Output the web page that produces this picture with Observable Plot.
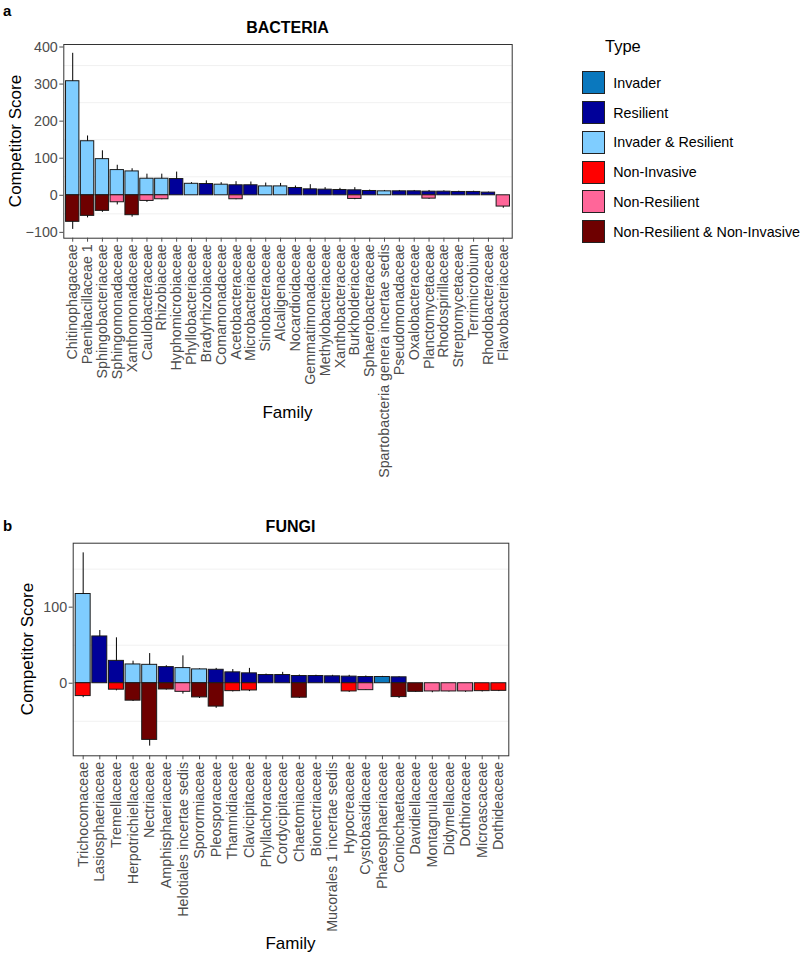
<!DOCTYPE html>
<html>
<head>
<meta charset="utf-8">
<script src="https://cdn.jsdelivr.net/npm/d3@7"></script>
<script src="https://cdn.jsdelivr.net/npm/@observablehq/plot@0.6"></script>
<style>
  html, body { margin: 0; padding: 0; background: #fff; }
  #root { position: relative; width: 800px; height: 956px; font-family: "Liberation Sans", Arial, sans-serif; color: #000; overflow: hidden; }
  .abs { position: absolute; white-space: nowrap; }
  .panelTag { font-weight: bold; font-size: 15px; }
  .ptitle { font-weight: bold; font-size: 16px; transform: translate(-50%, -50%); }
  .atitle { font-size: 17px; transform: translate(-50%, -50%); }
  .ytitle { font-size: 17px; transform: translate(-50%, -50%) rotate(-90deg); }
  .legTitle { font-size: 16.5px; transform: translateY(-50%); }
  .key { position: absolute; width: 21px; height: 21px; border: 1px solid #222; }
  .legLab { font-size: 14.3px; transform: translateY(-50%); }
  svg { position: absolute; overflow: visible; }
</style>
</head>
<body>
<div id="root"></div>
<script>
// ---------- Types / colours ----------
const types = ["Invader", "Resilient", "Invader & Resilient", "Non-Invasive", "Non-Resilient", "Non-Resilient & Non-Invasive"];
const typeColors = ["#0a78be", "#000099", "#7fcdff", "#ff0000", "#ff6699", "#6e0000"];
const I = "Invader", R = "Resilient", IR = "Invader & Resilient", NI = "Non-Invasive", NR = "Non-Resilient", NRNI = "Non-Resilient & Non-Invasive";

// ---------- BACTERIA ----------
const bacFamilies = ["Chitinophagaceae", "Paenibacillaceae 1", "Sphingobacteriaceae", "Sphingomonadaceae", "Xanthomonadaceae", "Caulobacteraceae", "Rhizobiaceae", "Hyphomicrobiaceae", "Phyllobacteriaceae", "Bradyrhizobiaceae", "Comamonadaceae", "Acetobacteraceae", "Microbacteriaceae", "Sinobacteraceae", "Alcaligenaceae", "Nocardioidaceae", "Gemmatimonadaceae", "Methylobacteriaceae", "Xanthobacteraceae", "Burkholderiaceae", "Sphaerobacteraceae", "Spartobacteria genera incertae sedis", "Pseudomonadaceae", "Oxalobacteraceae", "Planctomycetaceae", "Rhodospirillaceae", "Streptomycetaceae", "Terrimicrobium", "Rhodobacteraceae", "Flavobacteriaceae"];
const bacPosType = [IR, IR, IR, IR, IR, IR, IR, R, IR, R, IR, R, R, IR, IR, R, R, R, R, R, R, IR, R, R, R, R, R, R, R, null];
const bacPosValue = [307.7, 145.8, 97.5, 68, 64.4, 44.7, 44.7, 43.8, 31, 30.4, 28.6, 27, 27, 24, 24, 19.7, 16.1, 15.2, 14.3, 13.4, 11.6, 10.7, 10.7, 10.7, 9.8, 9.8, 9, 9, 7.2, null];
const bacPosUpper = [383, 160, 120, 81, 71.6, 57, 57, 62.6, 34, 39, 34, 36.7, 35.8, 33, 32, 25, 28.6, 20.6, 18.8, 20.6, 14, 13, 13, 13, 13, 12, 11, 11, 8.5, null];
const bacNegType = [NRNI, NRNI, NRNI, NR, NRNI, NR, NR, null, null, null, null, NR, null, null, null, null, null, null, null, NR, null, null, null, null, NR, null, null, null, null, NR];
const bacNegValue = [-71.6, -55.5, -42, -18.8, -53.7, -15.2, -10.7, null, null, null, null, -10.7, null, null, null, null, null, null, null, -9.8, null, null, null, null, -9, null, null, null, null, -30.4];
const bacNegLower = [-92, -61, -46, -26, -59, -19, -12, null, null, null, null, -12, null, null, null, null, null, null, null, -12, null, null, null, null, -11, null, null, null, null, -35];
const bacYTicks = [-100, 0, 100, 200, 300, 400];
const bacYMinor = [-50, 50, 150, 250, 350];

// ---------- FUNGI ----------
const funFamilies = ["Trichocomaceae", "Lasiosphaeriaceae", "Tremellaceae", "Herpotrichiellaceae", "Nectriaceae", "Amphisphaeriaceae", "Helotiales incertae sedis", "Sporormiaceae", "Pleosporaceae", "Thamnidiaceae", "Clavicipitaceae", "Phyllachoraceae", "Cordycipitaceae", "Chaetomiaceae", "Bionectriaceae", "Mucorales 1 incertae sedis", "Hypocreaceae", "Cystobasidiaceae", "Phaeosphaeriaceae", "Coniochaetaceae", "Davidiellaceae", "Montagnulaceae", "Didymellaceae", "Dothioraceae", "Microascaceae", "Dothideaceae"];
const funPosType = [IR, R, R, IR, IR, R, IR, IR, R, R, R, R, R, R, R, R, R, R, I, R, null, null, null, null, null, null];
const funPosValue = [117.3, 61.5, 29.4, 24.7, 24.2, 21.2, 19.9, 18.2, 17.7, 14.3, 13, 10.8, 10.8, 9.5, 9.5, 9.1, 8.7, 8.2, 8.2, 7.8, null, null, null, null, null, null];
const funPosUpper = [171.4, 69.3, 59.7, 29, 39, 23, 36, 19, 19.5, 18, 19.5, 12, 14.3, 10.8, 10.5, 10.4, 10.4, 9.5, 9, 8.5, null, null, null, null, null, null];
const funNegType = [NI, null, NI, NRNI, NRNI, NRNI, NR, NRNI, NRNI, NI, NI, null, null, NRNI, null, null, NI, NR, null, NRNI, NRNI, NR, NR, NR, NI, NI];
const funNegValue = [-16.9, null, -8.5, -22.9, -74.5, -8.2, -11.3, -18.6, -30.7, -10.4, -9.5, null, null, -19, null, null, -10.8, -9.1, null, -18.2, -11.3, -10.8, -10.8, -10.8, -10.4, -10];
const funNegLower = [-19, null, -10, -24, -82.7, -9, -14.3, -20, -33, -11.5, -11, null, null, -20, null, null, -12, -9.5, null, -20, -12, -12.5, -11.5, -12, -11.5, -11];
const funYTicks = [0, 100];
const funYMinor = [-50, 50, 150];

const root = document.getElementById("root");
function addText(cls, txt, x, y) {
  const d = document.createElement("div");
  d.className = "abs " + cls;
  d.textContent = txt;
  d.style.left = x + "px";
  d.style.top = y + "px";
  root.appendChild(d);
  return d;
}

function panel(cfg) {
  const rows = [];
  const errs = [];
  cfg.families.forEach((f, i) => {
    if (cfg.posValue[i] != null) {
      rows.push({family: f, type: cfg.posType[i], y1: 0, y2: cfg.posValue[i]});
      errs.push({family: f, y1: cfg.posValue[i], y2: cfg.posUpper[i]});
    }
    if (cfg.negValue[i] != null) {
      rows.push({family: f, type: cfg.negType[i], y1: 0, y2: cfg.negValue[i]});
      errs.push({family: f, y1: cfg.negValue[i], y2: cfg.negLower[i]});
    }
  });
  const lo = d3.min(errs, d => Math.min(d.y1, d.y2));
  const hi = d3.max(errs, d => Math.max(d.y1, d.y2));
  const pad = (hi - lo) * 0.05;
  const svg = Plot.plot({
    width: cfg.width, height: cfg.height,
    marginLeft: cfg.ml, marginRight: cfg.mr, marginTop: cfg.mt, marginBottom: cfg.mb,
    style: {fontFamily: "'Liberation Sans', Arial, sans-serif", fontSize: "14.3px", color: "#4d4d4d", background: "transparent", overflow: "visible"},
    x: {type: "band", domain: cfg.families, paddingInner: 0.1, paddingOuter: 0.15, round: false, label: null},
    y: {domain: [lo - pad, hi + pad], label: null},
    color: {type: "ordinal", domain: types, range: typeColors},
    marks: [
      Plot.ruleY(cfg.yMinor, {stroke: "#ebebeb", strokeWidth: 0.7}),
      Plot.barY(rows, {x: "family", y1: "y1", y2: "y2", fill: "type", stroke: "#1a1a1a", strokeWidth: 1}),
      Plot.ruleX(errs, {x: "family", y1: "y1", y2: "y2", stroke: "#000", strokeWidth: 1}),
      Plot.frame({stroke: "#333", strokeWidth: 1}),
      Plot.axisY({ticks: cfg.yTicks, tickSize: 4, tickPadding: 2, label: null}),
      Plot.axisX({tickRotate: -90, tickSize: 4, tickPadding: 2, label: null})
    ]
  });
  svg.style.left = cfg.left + "px";
  svg.style.top = cfg.top + "px";
  root.appendChild(svg);
}

// Bacteria panel (frame: x 63.3..511.7, y 44..237.7)
panel({families: bacFamilies, posType: bacPosType, posValue: bacPosValue, posUpper: bacPosUpper,
  negType: bacNegType, negValue: bacNegValue, negLower: bacNegLower, yTicks: bacYTicks, yMinor: bacYMinor,
  left: 0, top: 0, width: 520, height: 495, ml: 63.3, mr: 8.3, mt: 44, mb: 257.3});

// Fungi panel (frame: x 72.7..508.3, y 542.7..755.3)
panel({families: funFamilies, posType: funPosType, posValue: funPosValue, posUpper: funPosUpper,
  negType: funNegType, negValue: funNegValue, negLower: funNegLower, yTicks: funYTicks, yMinor: funYMinor,
  left: 0, top: 500, width: 520, height: 456, ml: 72.7, mr: 11.7, mt: 42.7, mb: 200.7});

// Titles and axis titles
addText("panelTag", "a", 3, 2);
addText("ptitle", "BACTERIA", 287.5, 27.5);
addText("ytitle", "Competitor Score", 15.5, 141);
addText("atitle", "Family", 287.5, 413);

addText("panelTag", "b", 3, 517);
addText("ptitle", "FUNGI", 290.5, 526.7);
addText("ytitle", "Competitor Score", 28, 649);
addText("atitle", "Family", 290.5, 944);

// Legend
addText("legTitle", "Type", 605, 46);
types.forEach((t, i) => {
  const cy = 82.7 + i * 29.8;
  const k = document.createElement("div");
  k.className = "key";
  k.style.left = "581.5px";
  k.style.top = (cy - 11.5) + "px";
  k.style.background = typeColors[i];
  root.appendChild(k);
  addText("legLab", t, 613.3, cy);
});
</script>
</body>
</html>
